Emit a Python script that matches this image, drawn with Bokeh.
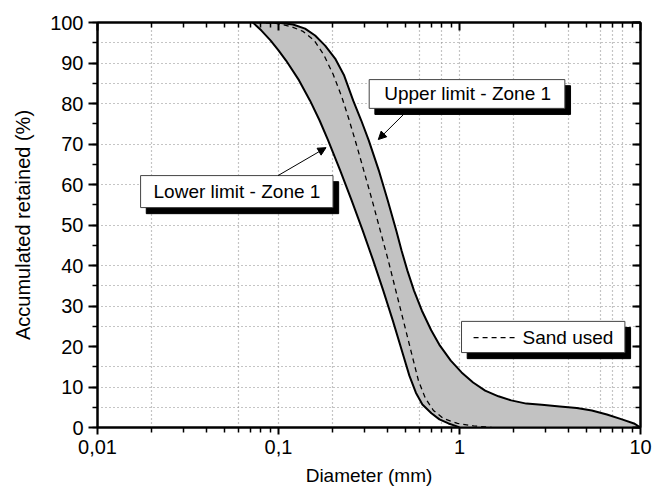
from bokeh.plotting import figure
from bokeh.models import (LogAxis, LinearAxis, FixedTicker, SingleIntervalTicker,
                          CustomJSTickFormatter, Arrow, NormalHead)
from bokeh.core.properties import value
from bokeh.embed import file_html
from bokeh.resources import INLINE

# ---- data (diameter in mm, accumulated retained in %) ----
upper_x = [0.0722, 0.1032, 0.1203, 0.1402, 0.1593, 0.1810, 0.2056, 0.2306, 0.2587, 0.2866,
           0.3152, 0.3581, 0.4018, 0.4477, 0.4784, 0.5150, 0.5605, 0.6191, 0.6977, 0.7798,
           0.8951, 1.027, 1.189, 1.386, 1.641, 1.931, 2.339, 2.847, 3.581, 4.449,
           5.386, 6.523, 7.899, 9.204, 10.0]
upper_y = [100, 99.9, 99.5, 98.5, 96.8, 94.3, 91.1, 86.9, 80.7, 75.8,
           70.9, 63.5, 56.0, 48.6, 43.7, 38.8, 33.8, 28.9, 24.0, 20.2,
           16.5, 13.6, 11.1, 9.1, 7.7, 6.7, 5.9, 5.6, 5.2, 4.8,
           4.2, 3.2, 2.0, 1.0, 0]

lower_x = [0.0722, 0.0805, 0.0903, 0.1000, 0.1101, 0.1299, 0.1494, 0.1687, 0.1880, 0.2191,
           0.2538, 0.2920, 0.3338, 0.3792, 0.4282, 0.4801, 0.5284, 0.5741, 0.6237, 0.6995,
           0.7748, 0.8692, 0.9502, 1.0]
lower_y = [100, 98.0, 95.6, 93.1, 90.6, 85.7, 80.7, 75.8, 70.9, 63.5,
           56.0, 48.6, 41.2, 33.8, 26.4, 19.0, 12.8, 8.6, 5.7, 3.5,
           2.0, 1.0, 0.4, 0]

sand_x = [0.0760, 0.0968, 0.1173, 0.1367, 0.1573, 0.1775, 0.2004, 0.2234, 0.2442, 0.2653,
          0.2957, 0.3296, 0.3650, 0.4043, 0.4448, 0.4896, 0.5387, 0.5929, 0.6480, 0.7178,
          0.8155, 0.9748, 1.196, 1.504]
sand_y = [100, 99.8, 99.0, 97.8, 95.6, 92.1, 87.2, 81.7, 76.3, 70.9,
          63.5, 56.0, 48.6, 41.2, 33.8, 26.4, 19.0, 11.6, 7.2, 4.2,
          2.2, 1.0, 0.4, 0]

x_major_ticks = [0.01, 0.1, 1, 10]
x_grid_lines = [0.02, 0.06, 0.1, 0.2, 0.6, 0.8, 1, 2, 4, 6, 7, 8]
y_grid_lines = [5, 10, 15, 25, 30, 35, 40, 50, 60, 70, 80, 85, 90, 95]

FONT = "Liberation Sans"
FS = "20px"

p = figure(x_axis_type="log", x_range=(0.01, 10), y_range=(0, 100),
           frame_width=543, frame_height=405,
           min_border_left=97, min_border_right=16, min_border_top=22, min_border_bottom=61,
           output_backend="svg", toolbar_location=None,
           background_fill_color="white", border_fill_color="white")
p.outline_line_color = "black"
p.outline_line_width = 2

minor_x = [m * d for d in (0.01, 0.1, 1) for m in range(2, 10)]

# bottom axis
xa = p.xaxis[0]
xa.ticker = FixedTicker(ticks=x_major_ticks, minor_ticks=minor_x)
xa.formatter = CustomJSTickFormatter(code="return String(tick).replace('.', ',');")
xa.axis_label = "Diameter (mm)"
# left axis
ya = p.yaxis[0]
ya.ticker = SingleIntervalTicker(interval=10, num_minor_ticks=2)
ya.axis_label = "Accumulated retained (%)"

for ax in (xa, ya):
    ax.axis_line_width = 2
    ax.major_tick_line_width = 2
    ax.minor_tick_line_width = 1.5
    ax.major_tick_in = 0
    ax.minor_tick_in = 0
    ax.major_label_text_font = FONT
    ax.major_label_text_font_size = FS
    ax.major_label_text_color = "black"
    ax.axis_label_text_font = FONT
    ax.axis_label_text_font_size = FS
    ax.axis_label_text_font_style = "normal"
    ax.axis_label_text_color = "black"
xa.axis_label_text_font_size = "19px"
xa.major_tick_out = 7
xa.minor_tick_out = 5
xa.major_label_standoff = 5
xa.axis_label_standoff = 8
ya.major_tick_out = 9
ya.minor_tick_out = 5
ya.major_label_standoff = 5
ya.axis_label_standoff = 13

# mirrored top and right axes (ticks inward, no labels)
top = LogAxis(ticker=FixedTicker(ticks=x_major_ticks, minor_ticks=minor_x),
              formatter=CustomJSTickFormatter(code="return '';"))
right = LinearAxis(ticker=SingleIntervalTicker(interval=10, num_minor_ticks=2),
                   formatter=CustomJSTickFormatter(code="return '';"))
for ax in (top, right):
    ax.axis_line_width = 2
    ax.major_tick_line_width = 2
    ax.minor_tick_line_width = 1.5
    ax.major_tick_out = 0
    ax.minor_tick_out = 0
    ax.major_tick_in = 8
    ax.minor_tick_in = 5
    ax.major_label_text_font_size = "1px"
    ax.major_label_standoff = 0
p.add_layout(top, "above")
p.add_layout(right, "right")

# grids
p.xgrid.ticker = FixedTicker(ticks=x_grid_lines)
p.ygrid.ticker = FixedTicker(ticks=y_grid_lines)
for g in (p.xgrid, p.ygrid):
    g.grid_line_color = "#8a8a8a"
    g.grid_line_dash = "1 3"
    g.grid_line_width = 1.2

# band between limits
band_x = upper_x + lower_x[::-1]
band_y = upper_y + lower_y[::-1]
p.patch(band_x, band_y, fill_color="#c2c2c2", line_color=None)
p.line(upper_x, upper_y, line_color="black", line_width=2, line_join="round")
p.line(lower_x, lower_y, line_color="black", line_width=2, line_join="round")
p.line(sand_x, sand_y, line_color="black", line_width=1.3, line_dash="5 4")

# annotation boxes (with drop shadow)
def callout(x0, x1, y0, y1, sx, sy):
    p.quad(left=x0 * sx, right=x1 * sx, bottom=y0 - sy, top=y1 - sy,
           fill_color="black", line_color="black")
    p.quad(left=x0, right=x1, bottom=y0, top=y1,
           fill_color="white", line_color="#444444", line_width=1)

SX = 1.075
SY = 1.5
callout(0.0173, 0.200, 54.3, 62.2, SX, SY)
callout(0.317, 3.82, 78.8, 85.9, SX, SY)
callout(1.026, 8.20, 18.5, 26.2, SX, SY)

txt = dict(text_font=value(FONT), text_font_size=value("19px"), text_color="black",
           text_baseline="middle", text_align="left")
p.text(x=[0.0204], y=[58.3], text=["Lower limit - Zone 1"], **txt)
p.text(x=[0.384], y=[82.4], text=["Upper limit - Zone 1"], **txt)
p.text(x=[2.23], y=[22.3], text=["Sand used"], **txt)
p.line([1.196, 2.07], [22.2, 22.2], line_color="black", line_width=1.3, line_dash="5 4")

p.add_layout(Arrow(end=NormalHead(size=8, fill_color="black", line_color="black"),
                   x_start=0.0994, y_start=62.2, x_end=0.183, y_end=69.1,
                   line_color="black", line_width=1))
p.add_layout(Arrow(end=NormalHead(size=8, fill_color="black", line_color="black"),
                   x_start=0.496, y_start=77.5, x_end=0.356, y_end=71.1,
                   line_color="black", line_width=1))

open("out.html", "w").write(file_html(p, INLINE))
